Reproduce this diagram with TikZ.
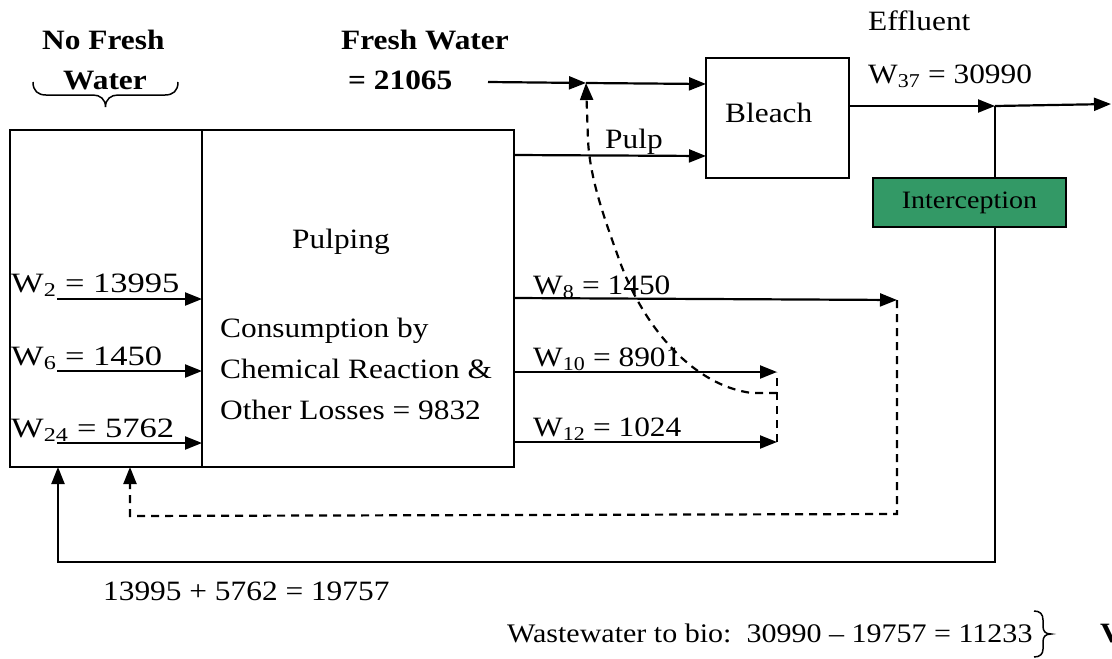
\documentclass[tikz,border=0pt]{standalone}
\usepackage{fontspec}
\setmainfont{Liberation Serif}[FakeStretch=1.12]
\usetikzlibrary{arrows.meta}
\definecolor{intgreen}{RGB}{51,153,102}
\begin{document}
\begin{tikzpicture}[x=1pt,y=-1pt,
  arr/.style={line width=2.2pt,-{Triangle[length=17pt,width=13pt]}},
  darr/.style={line width=2.2pt,dash pattern=on 8pt off 6pt,-{Triangle[length=17pt,width=13pt]}},
  dline/.style={line width=2.2pt,dash pattern=on 8pt off 6pt},
  box/.style={draw,line width=2.2pt,inner sep=0pt},
  txt/.style={font=\fontsize{28}{34}\selectfont,inner sep=0pt,anchor=base west},
  btxt/.style={font=\fontsize{28}{34}\selectfont\bfseries,inner sep=0pt,anchor=base west},
  bracestyle/.style={line width=1.5pt}
]
\useasboundingbox (0,0) rectangle (1112,659);

% boxes
\node[box,minimum width=192pt,minimum height=337pt] (left) at (106,298.5) {};
\node[box,minimum width=312pt,minimum height=337pt] (pulping) at (358,298.5) {};
\node[box,minimum width=143pt,minimum height=120pt] (bleach) at (777.5,118) {};

% coordinates
\coordinate (fwS) at (488,82);
\coordinate (fwJ) at (586,83);
\coordinate (fwE) at (706,84);
\coordinate (pulpS) at (514,155);
\coordinate (pulpE) at (706,156);
\coordinate (effS) at (849,106);
\coordinate (effJ) at (995,106);
\coordinate (effE) at (1111,104);
\coordinate (loopBR) at (995,562);
\coordinate (loopBL) at (58,562);
\coordinate (loopT) at (58,467);
\coordinate (w2s) at (57,299);
\coordinate (w2e) at (202,299);
\coordinate (w6s) at (57,371);
\coordinate (w6e) at (202,371);
\coordinate (w24s) at (57,443);
\coordinate (w24e) at (202,443);
\coordinate (w8s) at (514,298);
\coordinate (w8e) at (897,300);
\coordinate (w10s) at (514,372);
\coordinate (w10e) at (777,372);
\coordinate (w12s) at (514,442);
\coordinate (w12e) at (777,442);
\coordinate (dj) at (777,393);
\coordinate (dk) at (752,393);
\coordinate (b1) at (897,514);
\coordinate (b2) at (130,516);
\coordinate (b3) at (130,467);

% fresh water
\draw[arr] (fwS) -- (fwJ);
\draw[arr] (fwJ) -- (fwE);
% pulp
\draw[arr] (pulpS) -- (pulpE);
% effluent
\draw[arr] (effS) -- (effJ);
\draw[arr] (effJ) -- (effE);
% big loop
\draw[arr] (effJ) -- (loopBR) -- (loopBL) -- (loopT);
% interception box (over the line)
\node[box,fill=intgreen,minimum width=193pt,minimum height=49pt,font=\fontsize{25}{28}\selectfont] (intc) at (969.5,202.5) {Interception};

% left arrows
\draw[arr] (w2s) -- (w2e);
\draw[arr] (w6s) -- (w6e);
\draw[arr] (w24s) -- (w24e);
% right arrows
\draw[arr] (w8s) -- (w8e);
\draw[arr] (w10s) -- (w10e);
\draw[arr] (w12s) -- (w12e);

% dashed recycles
\draw[dline] (w12e) -- (w10e);
\draw[darr] (dj) -- (dk) .. controls (695,386) and (645,330) .. (620,262) .. controls (605,220) and (590,180) .. (588,140) -- (fwJ);
\draw[darr] (w8e) -- (b1) -- (b2) -- (b3);

% texts
\node[btxt] (nf1) at (42,49) {No Fresh};
\node[btxt] (nf2) at (63,89) {Water};
\draw[bracestyle] (33,82) .. controls (33,91) and (38,95) .. (46,95) -- (93,95)
  .. controls (100,95) and (105.5,99) .. (105.5,107)
  .. controls (105.5,99) and (111,95) .. (118,95) -- (165,95)
  .. controls (173,95) and (178,91) .. (178,82);
\node[btxt] (fw1) at (341,49) {Fresh Water};
\node[btxt] (fw2) at (348,89) {= 21065};
\node[txt] (eff1) at (868,30) {Effluent};
\node[txt] (eff2) at (868,83) {W\textsubscript{37} = 30990};
\node[txt] (bl) at (725,122) {Bleach};
\node[txt] (pulp) at (605,148) {Pulp};
\node[txt] (pl) at (292,248) {Pulping};
\node[txt] (ct1) at (220,337) {Consumption by};
\node[txt] (ct2) at (220,378) {Chemical Reaction \&};
\node[txt] (ct3) at (220,419) {Other Losses = 9832};
\node[txt] (lw2) at (11,292) {\scalebox{1.1}[1]{W\textsubscript{2} = 13995}};
\node[txt] (lw6) at (11,365) {\scalebox{1.1}[1]{W\textsubscript{6} = 1450}};
\node[txt] (lw24) at (11,437) {\scalebox{1.1}[1]{W\textsubscript{24} = 5762}};
\node[txt] (lw8) at (533,294) {W\textsubscript{8} = 1450};
\node[txt] (lw10) at (533,366) {W\textsubscript{10} = 8901};
\node[txt] (lw12) at (533,436) {W\textsubscript{12} = 1024};
\node[txt] (sum) at (103,600) {13995 + 5762 = 19757};
\node[txt,font=\fontsize{26.8}{32}\selectfont] (ww) at (507,642) {Wastewater to bio:\ \ 30990 – 19757 = 11233};
\draw[bracestyle] (1034,611) .. controls (1040,611) and (1043,614) .. (1043,620) -- (1043,626)
  .. controls (1043,631) and (1045,634) .. (1051,634)
  .. controls (1045,634) and (1043,637) .. (1043,642) -- (1043,649)
  .. controls (1043,654) and (1040,657) .. (1034,657);
\node[btxt] (vv) at (1100,642) {V};
\end{tikzpicture}
\end{document}
